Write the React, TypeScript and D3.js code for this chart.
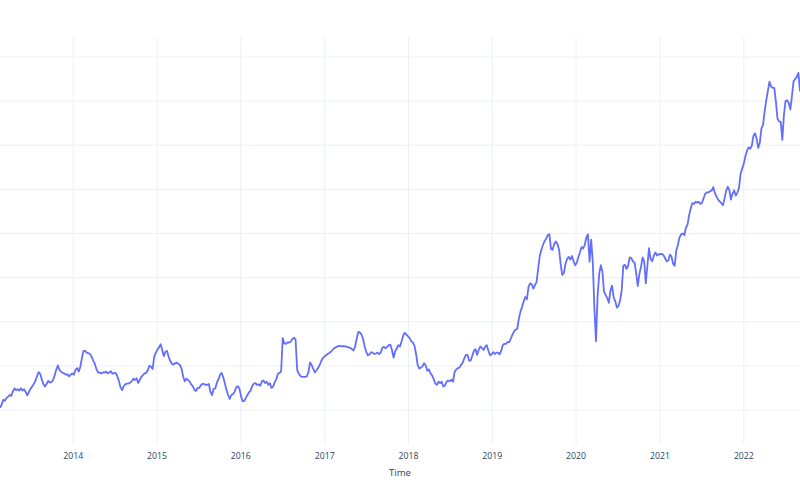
import { useRef, useEffect } from 'react';
import * as d3 from 'd3';

// Weekly closes (Mondays), one array per calendar year.
const close2013 = [
  20.5, 21.2, 22.3, 22.1, 22.7, 23.0, 23.4, 23.2, 24.2, 24.9,
  24.5, 24.7, 24.4, 24.9, 24.4, 24.7, 24.1, 23.3, 24.1, 24.8,
  25.3, 25.9, 26.6, 27.6, 28.6, 28.2, 27.0, 25.9, 25.3, 25.9,
  26.6, 26.2, 26.3, 26.8, 27.8, 29.1, 30.1, 29.1, 28.7, 28.4,
  28.3, 28.0, 28.1, 27.6, 28.0, 28.3,
];
const close2014 = [
  28.0, 29.1, 29.5, 28.7, 29.8, 31.8, 33.4, 33.4, 33.0, 32.9,
  32.7, 32.1, 31.2, 30.5, 29.3, 28.5, 28.5, 28.3, 28.5, 28.5,
  28.7, 28.3, 28.5, 28.8, 28.2, 28.4, 28.4, 27.7, 26.6, 25.2,
  24.5, 25.4, 25.8, 26.0, 26.0, 26.2, 26.5, 27.1, 26.8, 27.2,
  26.1, 26.8, 27.5, 27.9, 28.3, 28.4, 29.0, 30.0, 29.8, 29.3,
  32.1, 33.0,
];
const close2015 = [
  33.7, 34.2, 34.9, 33.6, 32.2, 33.2, 33.4, 32.0, 31.1, 30.5,
  30.3, 30.6, 30.7, 30.5, 30.2, 29.4, 27.6, 26.5, 27.1, 26.8,
  26.5, 25.8, 25.4, 24.6, 24.3, 25.0, 25.0, 25.6, 25.9, 25.9,
  25.7, 25.7, 25.9, 24.1, 23.4, 24.8, 24.9, 26.2, 27.0, 28.0,
  28.4, 27.4, 26.0, 24.5, 23.4, 22.5, 23.4, 23.6, 24.1, 25.1,
  25.4, 24.9,
];
const close2016 = [
  23.2, 22.0, 22.0, 22.7, 23.4, 24.0, 24.4, 25.4, 26.0, 26.1,
  25.7, 25.8, 25.5, 26.5, 26.7, 26.1, 26.4, 25.7, 26.1, 25.0,
  25.3, 26.3, 27.0, 28.2, 28.4, 28.7, 36.3, 35.1, 35.0, 35.3,
  35.3, 35.5, 36.1, 36.4, 35.9, 29.1, 28.2, 27.7, 27.5, 27.5,
  27.5, 27.6, 28.6, 30.8, 30.2, 29.3, 28.5, 29.0, 29.5, 30.2,
  31.1, 31.8,
];
const close2017 = [
  32.1, 32.4, 32.7, 32.9, 33.2, 33.6, 34.0, 34.2, 34.4, 34.5,
  34.5, 34.4, 34.5, 34.4, 34.3, 34.2, 34.1, 33.8, 33.5, 34.3,
  36.1, 37.7, 37.6, 37.1, 36.1, 34.4, 33.2, 32.4, 32.6, 33.1,
  33.0, 32.7, 32.8, 33.0, 32.7, 33.0, 34.1, 34.3, 34.0, 34.3,
  34.7, 34.8, 33.6, 31.9, 33.3, 34.0, 34.7, 34.4, 35.6, 36.9,
  37.5, 37.1,
];
const close2018 = [
  36.7, 36.3, 35.6, 35.3, 34.6, 32.7, 30.2, 29.4, 29.6, 29.9,
  30.6, 30.1, 28.9, 29.2, 28.3, 27.8, 27.0, 26.0, 25.7, 26.4,
  26.1, 26.4, 25.3, 25.6, 26.4, 26.7, 26.5, 26.9, 26.4, 28.6,
  29.2, 29.5, 29.6, 30.2, 30.7, 31.7, 32.5, 32.5, 31.2, 31.2,
  32.3, 33.4, 33.8, 32.5, 33.6, 34.4, 34.0, 33.6, 34.3, 34.7,
  33.5, 32.4, 32.6,
];
const close2019 = [
  33.1, 32.7, 33.0, 33.0, 32.6, 33.4, 34.7, 35.0, 35.0, 35.4,
  35.4, 36.2, 37.1, 37.8, 38.2, 38.4, 40.7, 42.3, 43.4, 44.6,
  45.6, 45.1, 47.9, 48.7, 48.5, 47.5, 48.3, 49.0, 52.0, 54.9,
  56.3, 57.4, 58.3, 58.8, 59.7, 59.8, 56.5, 56.3, 57.6, 58.2,
  57.6, 56.4, 53.1, 50.6, 51.0, 53.1, 54.2, 54.7, 54.1, 54.9,
  53.8, 52.8,
];
const close2020 = [
  53.3, 54.6, 55.7, 56.9, 56.6, 57.4, 59.1, 59.8, 53.6, 58.6,
  53.6, 43.1, 35.6, 45.9, 50.8, 52.8, 51.4, 46.8, 46.1, 45.4,
  44.3, 47.1, 48.2, 45.5, 44.7, 43.2, 43.6, 44.8, 47.1, 52.7,
  52.9, 52.0, 52.7, 54.6, 54.4, 53.7, 53.4, 51.1, 48.1, 50.8,
  52.4, 54.6, 53.7, 48.7, 52.7, 56.7, 54.2, 53.7, 55.0, 55.7,
  55.0, 55.3,
];
const close2021 = [
  55.3, 55.4, 55.1, 54.4, 53.7, 53.9, 55.2, 54.8, 53.1, 52.7,
  56.2, 57.4, 59.1, 59.8, 60.0, 59.6, 61.3, 62.0, 64.2, 65.7,
  66.9, 66.7, 67.2, 67.0, 67.2, 66.7, 66.9, 68.0, 69.0, 69.3,
  69.3, 69.6, 69.7, 70.5, 69.2, 68.4, 67.7, 67.3, 66.9, 66.4,
  67.9, 69.6, 70.6, 69.9, 67.7, 69.0, 69.8, 68.6, 69.2, 70.3,
  73.5, 74.7,
];
const close2022 = [
  75.8, 77.5, 78.7, 79.5, 79.2, 79.9, 82.1, 82.7, 81.5, 79.4,
  80.6, 83.8, 84.6, 87.7, 90.2, 92.3, 94.4, 93.3, 93.0, 93.0,
  89.9, 86.0, 85.4, 85.3, 81.2, 86.9, 90.0, 90.2, 89.6, 88.1,
  91.2, 94.5, 95.0, 95.5, 96.4, 92.2,
];

const FIRST_WEEK = new Date(2013, 1, 18);
const yearTicks = [2014, 2015, 2016, 2017, 2018, 2019, 2020, 2021, 2022];
const gridValues = [20, 30, 40, 50, 60, 70, 80, 90, 100];

const WIDTH = 800;
const HEIGHT = 500;
const PLOT = { left: 0, right: 800, top: 37, bottom: 445 };
const FONT = '"Open Sans", verdana, arial, sans-serif';
const TEXT_COLOR = '#2a3f5f';
const GRID_COLOR = '#EBF0F8';

export default function App() {
  const svgRef = useRef<SVGSVGElement>(null);

  useEffect(() => {
    if (!svgRef.current) return;
    const svg = d3.select(svgRef.current);
    svg.selectAll('*').remove();

    const closes = [
      ...close2013, ...close2014, ...close2015, ...close2016, ...close2017,
      ...close2018, ...close2019, ...close2020, ...close2021, ...close2022,
    ];
    const data = closes.map((value, i) => ({ date: d3.timeDay.offset(FIRST_WEEK, i * 7), value }));

    const x = d3
      .scaleTime()
      .domain(d3.extent(data, (d) => d.date) as [Date, Date])
      .range([PLOT.left, PLOT.right]);
    const y = d3.scaleLinear().domain([12.07, 104.53]).range([PLOT.bottom, PLOT.top]);

    // horizontal grid
    svg
      .append('g')
      .selectAll('line')
      .data(gridValues)
      .join('line')
      .attr('x1', PLOT.left)
      .attr('x2', PLOT.right)
      .attr('y1', (d) => y(d))
      .attr('y2', (d) => y(d))
      .attr('stroke', GRID_COLOR)
      .attr('stroke-width', 1);

    // x axis: vertical grid + year labels
    const xAxis = d3
      .axisBottom(x)
      .tickValues(yearTicks.map((yr) => new Date(yr, 0, 1)))
      .tickFormat((d) => d3.timeFormat('%Y')(d as Date))
      .tickSize(-(PLOT.bottom - PLOT.top))
      .tickPadding(7.5);

    const gx = svg.append('g').attr('transform', `translate(0,${PLOT.bottom})`).call(xAxis);
    gx.select('.domain').remove();
    gx.selectAll('.tick line').attr('stroke', GRID_COLOR).attr('stroke-width', 1);
    gx.selectAll('.tick text')
      .attr('fill', TEXT_COLOR)
      .attr('font-family', FONT)
      .attr('font-size', '8.7px');

    // the series
    const line = d3
      .line<{ date: Date; value: number }>()
      .x((d) => x(d.date))
      .y((d) => y(d.value));

    svg
      .append('path')
      .datum(data)
      .attr('d', line)
      .attr('fill', 'none')
      .attr('stroke', '#636efa')
      .attr('stroke-width', 1.8)
      .attr('stroke-linejoin', 'round');

    // axis title
    svg
      .append('text')
      .attr('x', (PLOT.left + PLOT.right) / 2)
      .attr('y', 475.5)
      .attr('text-anchor', 'middle')
      .attr('fill', TEXT_COLOR)
      .attr('font-family', FONT)
      .attr('font-size', '9.6px')
      .text('Time');
  }, []);

  return (
    <svg
      ref={svgRef}
      width={WIDTH}
      height={HEIGHT}
      viewBox={`0 0 ${WIDTH} ${HEIGHT}`}
      style={{ position: 'absolute', left: 0, top: 0, background: '#fff' }}
    />
  );
}
